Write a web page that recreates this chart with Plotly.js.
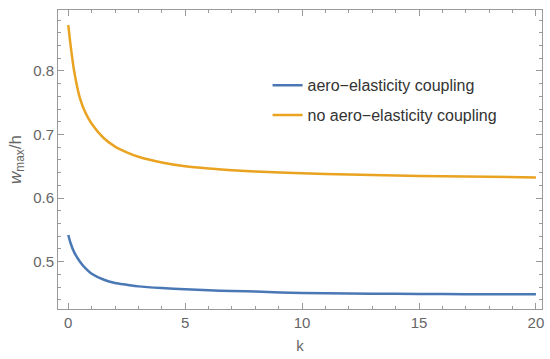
<!DOCTYPE html>
<html>
<head>
<meta charset="utf-8">
<script src="https://cdn.plot.ly/plotly-3.0.1.min.js"></script>
<style>html,body{margin:0;padding:0;background:#fff;}#chart{width:550px;height:359px;}</style>
</head>
<body>
<div id="chart"></div>
<script>
var kValues = [0, 0.1, 0.25, 0.5, 0.75, 1, 1.5, 2, 2.5, 3, 4, 5, 6, 7, 8, 10, 12, 14, 16, 18, 20];
var coupled = [0.542, 0.529, 0.515, 0.500, 0.489, 0.481, 0.472, 0.4665, 0.4638, 0.4612, 0.4585, 0.4566, 0.455, 0.454, 0.453, 0.4507, 0.4499, 0.4494, 0.4491, 0.4489, 0.4487];
var uncoupled = [0.872, 0.840, 0.800, 0.757, 0.733, 0.717, 0.695, 0.681, 0.672, 0.665, 0.656, 0.650, 0.6465, 0.644, 0.642, 0.639, 0.637, 0.6355, 0.6345, 0.6335, 0.6325];
var seriesNames = ["aero\u2212elasticity coupling", "no aero\u2212elasticity coupling"];
var xTitle = "k";
var yTitle = "<i>w</i><sub>max</sub>/h";

var axisColor = "#9a9a9a";
var traces = [
  {x: kValues, y: coupled, name: seriesNames[0], mode: "lines", legendgroup: "a",
   line: {color: "#4a78b5", width: 2.5, shape: "spline", smoothing: 0.8}},
  {x: kValues, y: uncoupled, name: seriesNames[1], mode: "lines", legendgroup: "b",
   line: {color: "#e9a321", width: 2.5, shape: "spline", smoothing: 0.8}}
];
var layout = {
  width: 550, height: 359,
  margin: {l: 58, r: 8, t: 10, b: 50},
  paper_bgcolor: "#fff", plot_bgcolor: "#fff",
  font: {family: "Liberation Sans, Arial, sans-serif", color: "#666"},
  showlegend: true,
  legend: {x: 0.433, y: 0.805, xanchor: "left", yanchor: "top", bgcolor: "rgba(0,0,0,0)",
           font: {size: 16, color: "#333"}, traceorder: "grouped", tracegroupgap: 6},
  xaxis: {range: [-0.44, 20.26], showgrid: false, zeroline: false, showline: true, linecolor: axisColor,
          linewidth: 1, mirror: "ticks", ticks: "inside", ticklen: 6, tickcolor: axisColor,
          tick0: 0, dtick: 5, tickfont: {size: 15, color: "#666"},
          minor: {ticks: "inside", ticklen: 3, tickcolor: axisColor, dtick: 1, showgrid: false},
          title: {text: xTitle, font: {size: 15, color: "#666"}, standoff: 10}},
  yaxis: {range: [0.4256, 0.8959], showgrid: false, zeroline: false, showline: true, linecolor: axisColor,
          linewidth: 1, mirror: "ticks", ticks: "inside", ticklen: 6, tickcolor: axisColor,
          tick0: 0.5, dtick: 0.1, tickfont: {size: 15, color: "#666"},
          minor: {ticks: "inside", ticklen: 3, tickcolor: axisColor, dtick: 0.02, showgrid: false},
          title: {text: yTitle, font: {size: 17, color: "#666"}, standoff: 7}}
};
Plotly.newPlot("chart", traces, layout, {displayModeBar: false, staticPlot: true});
</script>
</body>
</html>
